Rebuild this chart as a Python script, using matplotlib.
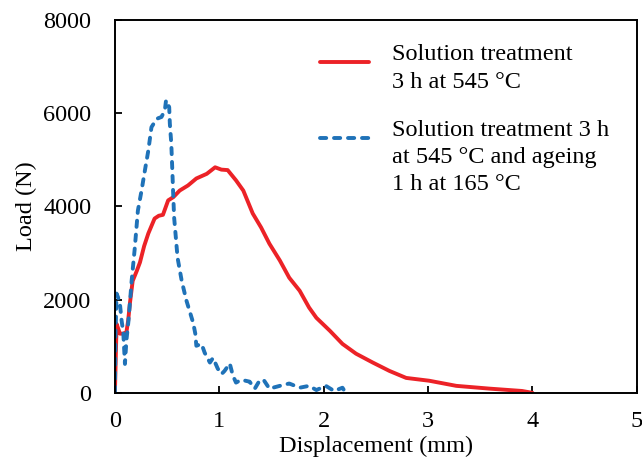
import numpy as np
import matplotlib
matplotlib.use("Agg")
import matplotlib.pyplot as plt

plt.rcParams['font.family'] = ['Liberation Serif', 'DejaVu Serif']
plt.rcParams['font.size'] = 17.5

# solution treatment 3 h at 545 C
disp_st = [0, 0.016, 0.048, 0.08, 0.11, 0.127, 0.143, 0.17, 0.21, 0.24, 0.28, 0.32,
           0.38, 0.42, 0.46, 0.51, 0.56, 0.62, 0.70, 0.78, 0.88, 0.96, 1.02, 1.08,
           1.16, 1.23, 1.32, 1.40, 1.48, 1.58, 1.67, 1.77, 1.86, 1.93, 2.06, 2.18,
           2.31, 2.47, 2.63, 2.79, 3.01, 3.27, 3.59, 3.90, 4.0]
load_st = [0, 1480, 1270, 1270, 1300, 1550, 1910, 2400, 2620, 2800, 3150, 3420,
           3740, 3800, 3820, 4130, 4200, 4340, 4450, 4600, 4700, 4840, 4790, 4780,
           4560, 4340, 3850, 3550, 3200, 2840, 2470, 2190, 1830, 1610, 1330, 1050,
           840, 650, 470, 320, 260, 150, 90, 40, 0]

# solution treatment + ageing 1 h at 165 C
disp_age = [0, 0.005, 0.016, 0.03, 0.048, 0.064, 0.08, 0.096, 0.11, 0.13, 0.143, 0.16,
            0.19, 0.22, 0.255, 0.287, 0.32, 0.35, 0.40, 0.446, 0.478, 0.49, 0.52,
            0.526, 0.54, 0.55, 0.557, 0.567, 0.60, 0.64, 0.685, 0.75, 0.77, 0.78,
            0.83, 0.86, 0.91, 0.94, 0.985, 1.02, 1.05, 1.10, 1.13, 1.16, 1.21, 1.29,
            1.34, 1.39, 1.43, 1.48, 1.58, 1.67, 1.77, 1.86, 1.93, 2.02, 2.10, 2.18, 2.21]
load_age = [0, 1200, 2130, 2050, 1910, 1550, 1300, 620, 1120, 1550, 1910, 2400,
            3100, 3910, 4340, 4770, 5200, 5700, 5880, 5920, 6060, 6280, 6130,
            5780, 5350, 4770, 4340, 3770, 2900, 2400, 1980, 1500, 1270, 1010,
            1050, 860, 650, 750, 520, 400, 470, 630, 370, 220, 280, 240,
            90, 280, 260, 90, 150, 200, 110, 150, 60, 150, 40, 110, 0]

red = '#ec2227'
blue = '#1f72b8'
lw = 2.8
dash = (1.6, 2.0)

fig = plt.figure(figsize=(6.42, 4.66), dpi=100)
ax = fig.add_axes([0.179, 0.157, 0.813, 0.800])

ax.plot(disp_st, load_st, color=red, lw=lw, solid_capstyle='round',
        solid_joinstyle='round')
ax.plot(disp_age, load_age, color=blue, lw=lw, dashes=dash,
        dash_capstyle='round')

ax.set_xlim(0, 5)
ax.set_ylim(0, 8000)
ax.set_xticks(range(0, 6))
ax.set_yticks(range(0, 8001, 2000))
ax.tick_params(direction='in', length=5, width=1.3)
ax.tick_params(axis='y', pad=17)
ax.tick_params(axis='x', pad=13)
for s in ax.spines.values():
    s.set_linewidth(1.4)

ax.set_xlabel('Displacement (mm)', labelpad=3)
ax.set_ylabel('Load (N)', labelpad=4)

# legend drawn by hand so the handle sits at the first text line
ax.plot([0.392, 0.486], [0.887, 0.887], transform=ax.transAxes, color=red,
        lw=lw, solid_capstyle='round')
ax.plot([0.392, 0.486], [0.683, 0.683], transform=ax.transAxes, color=blue,
        lw=lw, dashes=dash, dash_capstyle='round')
ax.text(0.530, 0.935, 'Solution treatment\n3 h at 545 °C', transform=ax.transAxes,
        va='top', ha='left', linespacing=1.4)
ax.text(0.530, 0.733, 'Solution treatment 3 h\nat 545 °C and ageing\n1 h at 165 °C',
        transform=ax.transAxes, va='top', ha='left', linespacing=1.4)

fig.savefig('out.png', dpi=100)
